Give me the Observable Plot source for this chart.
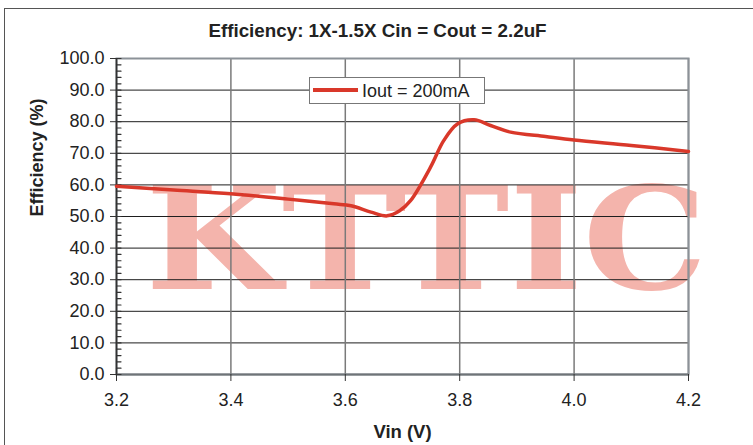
<!DOCTYPE html>
<html>
<head>
<meta charset="utf-8">
<script src="https://cdn.jsdelivr.net/npm/d3@7"></script>
<script src="https://cdn.jsdelivr.net/npm/@observablehq/plot@0.6"></script>
<style>
  html, body { margin: 0; padding: 0; background: #fff; }
  body { width: 753px; height: 445px; position: relative; overflow: hidden; font-family: "Liberation Sans", Arial, sans-serif; }
  #border { position: absolute; left: 4px; top: 8px; width: 800px; height: 500px; border: 1.5px solid #555; box-sizing: border-box; }
  #chart { position: absolute; left: 0; top: 0; }
  #legend { position: absolute; left: 309px; top: 77px; width: 176px; height: 27px; border: 1px solid #777; background: #fff; box-sizing: border-box; }
  #legend .swatch { position: absolute; left: 3px; top: 10px; width: 45px; height: 4px; }
  #legend .label { position: absolute; left: 52px; top: 3px; font-size: 18px; color: #222; white-space: nowrap; line-height: 20px; }
</style>
</head>
<body>
<div id="border"></div>
<div id="chart"></div>
<div id="legend"><div class="swatch"></div><div class="label"></div></div>
<script>
const title = "Efficiency: 1X-1.5X Cin = Cout = 2.2uF";
const xLabel = "Vin (V)";
const yLabel = "Efficiency (%)";
const seriesName = "Iout = 200mA";
const watermark = "KTTIC";

const vin = [3.2, 3.3, 3.4, 3.5, 3.58, 3.61, 3.645, 3.673, 3.695, 3.714, 3.749, 3.772, 3.796, 3.825, 3.854, 3.889, 3.95, 4.0, 4.1, 4.2];
const eff = [59.6, 58.4, 57.2, 55.5, 54.0, 53.4, 51.4, 50.2, 51.8, 55.0, 65.6, 74.0, 79.3, 80.6, 78.8, 76.7, 75.3, 74.2, 72.5, 70.6];

const xTicks = [3.2, 3.4, 3.6, 3.8, 4.0, 4.2];
const yTicks = [0, 10, 20, 30, 40, 50, 60, 70, 80, 90, 100];
const yMinor = [0, 2, 4, 6, 8, 10, 12, 14, 16, 18, 20, 22, 24, 26, 28, 30, 32, 34, 36, 38, 40, 42, 44, 46, 48, 50, 52, 54, 56, 58, 60, 62, 64, 66, 68, 70, 72, 74, 76, 78, 80, 82, 84, 86, 88, 90, 92, 94, 96, 98, 100];

const lineColor = "#d9382a";
const data = vin.map((v, i) => ({vin: v, eff: eff[i]}));

const tickShape = {draw(context, l) { context.moveTo(0, 0); context.lineTo(0, -l); }};

const plot = Plot.plot({
  width: 753,
  height: 445,
  marginLeft: 116,
  marginRight: 65,
  marginTop: 58,
  marginBottom: 71,
  style: {background: "transparent", fontFamily: "Liberation Sans, Arial, sans-serif", fontSize: "18px", color: "#222"},
  x: {domain: [3.2, 4.2]},
  y: {domain: [0, 100]},
  marks: [
    Plot.text([watermark], {frameAnchor: "middle", text: d => d, fontFamily: "DejaVu Serif", fontWeight: "bold", fontSize: 143, fill: "#f4b4ac", lineAnchor: "bottom", dx: 24, dy: 72}),
    Plot.gridY(yTicks, {stroke: "#1e1e1e", strokeOpacity: 1, strokeWidth: 1}),
    Plot.gridX(xTicks, {stroke: "#7a7a7a", strokeOpacity: 1, strokeWidth: 1.5}),
    Plot.frame({stroke: "#8c9298", strokeWidth: 2}),
    Plot.ruleY([0], {stroke: "#6f7478", strokeWidth: 2}),
    Plot.ruleX([3.2], {stroke: "#333", strokeWidth: 1.5}),
    Plot.vector(yMinor, {x: () => 3.2, y: d => d, rotate: 90, length: 4.5, anchor: "start", shape: tickShape, stroke: "#333", strokeWidth: 1.2}),
    Plot.axisY(yTicks, {tickSize: 6, tickPadding: 6, tickFormat: d3.format(".1f"), stroke: "#333", label: null, fontSize: 18}),
    Plot.axisX(xTicks, {tickSize: 7, tickPadding: 12, tickFormat: d3.format(".1f"), stroke: "#333", label: null, fontSize: 18}),
    Plot.line(data, {x: "vin", y: "eff", stroke: lineColor, strokeWidth: 3.5, curve: "catmull-rom"}),
    Plot.text([title], {frameAnchor: "top", text: d => d, dx: -25, dy: -22, lineAnchor: "bottom", fontWeight: "bold", fontSize: 18.8, fill: "#222"}),
    Plot.text([xLabel], {frameAnchor: "bottom", text: d => d, dy: 63, lineAnchor: "bottom", fontWeight: "bold", fontSize: 18.5, fill: "#222"}),
    Plot.text([yLabel], {frameAnchor: "left", text: d => d, dx: -79, rotate: -90, lineAnchor: "middle", fontWeight: "bold", fontSize: 18, fill: "#222"})
  ]
});

d3.select(plot).selectAll("text").filter(function() { return this.textContent === watermark; })
  .attr("textLength", 562).attr("lengthAdjust", "spacingAndGlyphs");

document.getElementById("chart").appendChild(plot);
document.querySelector("#legend .swatch").style.background = lineColor;
document.querySelector("#legend .label").textContent = seriesName;
</script>
</body>
</html>
